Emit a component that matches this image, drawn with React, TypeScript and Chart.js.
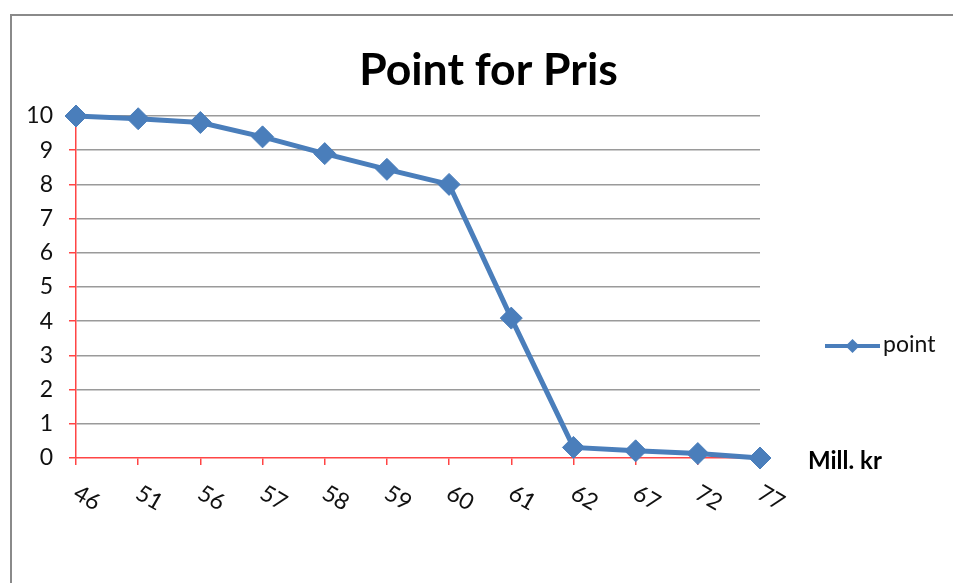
import React, { useEffect, useRef } from 'react';
import { Chart, registerables } from 'chart.js';

Chart.register(...registerables);

// ---- data ----
const categories = ['46', '51', '56', '57', '58', '59', '60', '61', '62', '67', '72', '77'];
const pointValues = [10, 9.92, 9.81, 9.39, 8.9, 8.44, 8.0, 4.09, 0.31, 0.21, 0.13, 0.0];
const seriesLabel = 'point';
const chartTitle = 'Point for Pris';
const xAxisTitle = 'Mill. kr';
const yMin = 0;
const yMax = 10;
const yStep = 1;

// ---- styles ----
const BLUE = '#4a7ebb';
const RED = '#ff4545';
const GRID = '#9a9a9a';
const FONT = 'Lato, "Open Sans", sans-serif';

const framePlugin = {
  id: 'frame',
  beforeDraw(chart: any) {
    const { ctx } = chart;
    ctx.save();
    ctx.strokeStyle = '#8a8a8a';
    ctx.lineWidth = 2;
    ctx.beginPath();
    ctx.moveTo(11, chart.height);
    ctx.lineTo(11, 15);
    ctx.lineTo(chart.width, 15);
    ctx.stroke();
    ctx.restore();
  },
};

const extrasPlugin = {
  id: 'extras',
  afterDraw(chart: any) {
    const { ctx } = chart;
    const xs = chart.scales.x;
    const area = chart.chartArea;
    ctx.save();
    // rotated x tick labels (clockwise)
    ctx.font = `23px ${FONT}`;
    ctx.fillStyle = '#111';
    ctx.textAlign = 'center';
    ctx.textBaseline = 'middle';
    categories.forEach((lab, i) => {
      const x = xs.getPixelForValue(i);
      ctx.save();
      ctx.translate(x + 11, xs.top + 40);
      ctx.rotate((30 * Math.PI) / 180);
      ctx.fillText(lab, 0, 0);
      ctx.restore();
    });
    // axis title
    ctx.font = `bold 24px ${FONT}`;
    ctx.textAlign = 'left';
    ctx.fillStyle = '#000';
    ctx.fillText(xAxisTitle, area.right + 48, xs.top + 3);
    // legend
    const ds = chart.data.datasets[0];
    const ly = 346;
    const lx0 = 825;
    const lx1 = 880;
    ctx.strokeStyle = ds.borderColor;
    ctx.lineWidth = 4;
    ctx.beginPath();
    ctx.moveTo(lx0, ly);
    ctx.lineTo(lx1, ly);
    ctx.stroke();
    const cx = (lx0 + lx1) / 2;
    const r = 7;
    ctx.fillStyle = ds.pointBackgroundColor;
    ctx.beginPath();
    ctx.moveTo(cx - r, ly);
    ctx.lineTo(cx, ly - r);
    ctx.lineTo(cx + r, ly);
    ctx.lineTo(cx, ly + r);
    ctx.closePath();
    ctx.fill();
    ctx.fillStyle = '#111';
    ctx.font = `23px ${FONT}`;
    ctx.textAlign = 'left';
    ctx.textBaseline = 'middle';
    ctx.fillText(ds.label, 883, ly - 1);
    ctx.restore();
  },
};

export default function App() {
  const ref = useRef<HTMLCanvasElement | null>(null);

  useEffect(() => {
    if (!ref.current) return;
    const chart = new Chart(ref.current, {
      type: 'line',
      data: {
        labels: categories,
        datasets: [
          {
            label: seriesLabel,
            data: pointValues,
            borderColor: BLUE,
            backgroundColor: BLUE,
            borderWidth: 5,
            pointStyle: 'rectRot',
            pointRadius: 11,
            pointBorderWidth: 1,
            pointBackgroundColor: BLUE,
            pointBorderColor: BLUE,
            tension: 0,
            clip: false as any,
          },
        ],
      },
      options: {
        responsive: false,
        animation: false,
        devicePixelRatio: 1,
        layout: { padding: { left: 24, right: 0, top: 0, bottom: 0 } },
        plugins: {
          legend: { display: false },
          tooltip: { enabled: false },
          title: {
            display: true,
            text: chartTitle,
            color: '#000',
            font: { family: FONT, size: 44.5, weight: 'bold' },
            padding: { top: 44, bottom: 18.6 },
          },
        },
        scales: {
          x: {
            type: 'category',
            offset: false,
            grid: {
              drawOnChartArea: false,
              drawTicks: true,
              tickLength: 7,
              tickColor: RED,
              lineWidth: 1.5,
              color: RED,
            },
            border: { display: true, color: RED, width: 1.5 },
            ticks: { display: false },
            afterFit: (s: any) => {
              s.height = 125;
            },
          },
          y: {
            type: 'linear',
            position: 'left',
            min: yMin,
            max: yMax,
            grid: {
              color: (c: any) => (c.tick && c.tick.value === 0 ? 'rgba(0,0,0,0)' : GRID),
              lineWidth: 1.5,
              tickLength: 7,
              tickColor: RED,
            },
            border: { display: true, color: RED, width: 1.5 },
            ticks: {
              stepSize: yStep,
              color: '#111',
              padding: 16,
              font: { family: FONT, size: 23 },
            },
            afterFit: (s: any) => {
              s.width = 52;
            },
          },
          r: {
            type: 'linear',
            position: 'right',
            display: true,
            grid: { display: false },
            border: { display: false },
            ticks: { display: false },
            afterFit: (s: any) => {
              s.width = 193;
            },
          },
        },
      } as any,
      plugins: [framePlugin, extrasPlugin],
    });
    return () => chart.destroy();
  }, []);

  return (
    <div style={{ position: 'fixed', left: 0, top: 0, width: 953, height: 583, overflow: 'hidden', background: '#fff' }}>
      <canvas ref={ref} width={953} height={583} style={{ display: 'block' }} />
    </div>
  );
}
